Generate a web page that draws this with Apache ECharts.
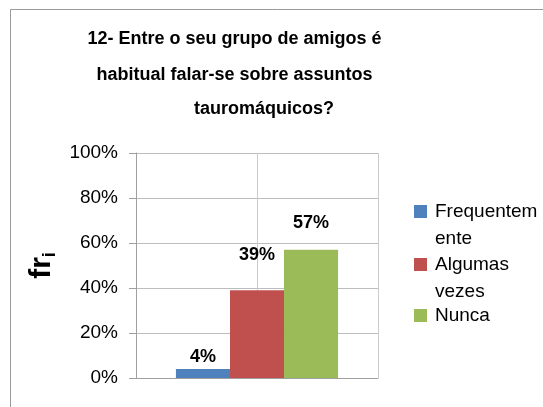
<!DOCTYPE html>
<html><head><meta charset="utf-8">
<script src="https://cdn.jsdelivr.net/npm/echarts@6/dist/echarts.min.js"></script>
<style>html,body{margin:0;padding:0;background:#fff}#c{width:543px;height:407px}</style>
</head><body><div id="c"></div>
<script>
const titleLines = ['12- Entre o seu grupo de amigos é', 'habitual falar-se sobre assuntos', 'tauromáquicos?'];
const categories = [''];
const seriesNames = ['Frequentemente', 'Algumas vezes', 'Nunca'];
const legendLabels = ['Frequentem\nente', 'Algumas\nvezes', 'Nunca'];
const frequentemente = [4];
const algumasVezes = [39];
const nunca = [57];
const yTickMin = 0, yTickMax = 100, yTickStep = 20;

const FONT = '"Liberation Sans", Arial, sans-serif';
const colors = ['#4F81BD', '#C0504D', '#9BBB59'];
const labelOffsets = [[0, 2], [0, -21], [0, -13]];
const seriesValues = [frequentemente, algumasVezes, nunca];

const titleCenters = [[234.5, 28], [234.5, 64], [264, 98]];
const legendTops = [171, 224, 302];

const chart = echarts.init(document.getElementById('c'), null, {renderer: 'canvas'});
chart.setOption({
  animation: false,
  backgroundColor: '#fff',
  color: colors,
  title: titleLines.map((t, i) => ({
    text: t,
    left: titleCenters[i][0],
    top: titleCenters[i][1],
    textAlign: 'center',
    textVerticalAlign: 'top',
    padding: 0,
    textStyle: {fontFamily: FONT, fontSize: 18, fontWeight: 'bold', color: '#000', lineHeight: 22}
  })),
  graphic: [{
    type: 'rect', silent: true, z: -10,
    shape: {x: 10.5, y: 9.5, width: 600, height: 500},
    style: {fill: 'none', stroke: '#9a9a9a', lineWidth: 1}
  }],
  legend: seriesNames.map((n, i) => ({
    data: [n],
    orient: 'vertical',
    left: 414,
    top: legendTops[i],
    padding: 0,
    icon: 'rect',
    itemWidth: 13,
    itemHeight: 13,
    selectedMode: false,
    formatter: () => (legendLabels[i].indexOf('\n') >= 0 ? ' \n' : '') + legendLabels[i],
    textStyle: {fontFamily: FONT, fontSize: 19, color: '#000', lineHeight: 27, padding: [0, 0, 0, 3]}
  })),
  grid: {left: 136, top: 153, width: 242, height: 225, containLabel: false},
  xAxis: [{
    type: 'category',
    data: categories,
    axisLine: {show: true, lineStyle: {color: '#a0a0a0'}},
    axisTick: {show: false},
    axisLabel: {show: false},
    splitLine: {show: false}
  }, {
    type: 'value', min: 0, max: 2, interval: 1, position: 'bottom',
    axisLine: {show: false}, axisTick: {show: false}, axisLabel: {show: false},
    splitLine: {show: true, lineStyle: {color: '#cccccc'}}
  }],
  yAxis: {
    type: 'value', min: yTickMin, max: yTickMax, interval: yTickStep,
    name: '{a|fr}{b|i}',
    nameLocation: 'middle',
    nameGap: 77,
    nameRotate: 90,
    nameTextStyle: {
      rich: {
        a: {fontFamily: FONT, fontSize: 30, fontWeight: 'bold', color: '#000', lineHeight: 34},
        b: {fontFamily: FONT, fontSize: 18, fontWeight: 'bold', color: '#000', lineHeight: 20, verticalAlign: 'bottom'}
      }
    },
    axisLine: {show: true, lineStyle: {color: '#a0a0a0'}},
    axisTick: {show: true, length: 7, lineStyle: {color: '#a0a0a0'}},
    axisLabel: {formatter: '{value}%', fontFamily: FONT, fontSize: 19, color: '#000', margin: 18, padding: [5, 0, 0, 0]},
    splitLine: {show: true, lineStyle: {color: '#bdbdbd'}}
  },
  series: seriesNames.map((n, i) => ({
    name: n,
    type: 'bar',
    xAxisIndex: 0,
    data: seriesValues[i],
    barGap: '0%',
    barCategoryGap: '33%',
    itemStyle: {color: colors[i]},
    label: {
      show: true, position: 'top', formatter: '{c}%', offset: labelOffsets[i],
      fontFamily: FONT, fontSize: 18, fontWeight: 'bold', color: '#000'
    }
  }))
});
</script></body></html>
